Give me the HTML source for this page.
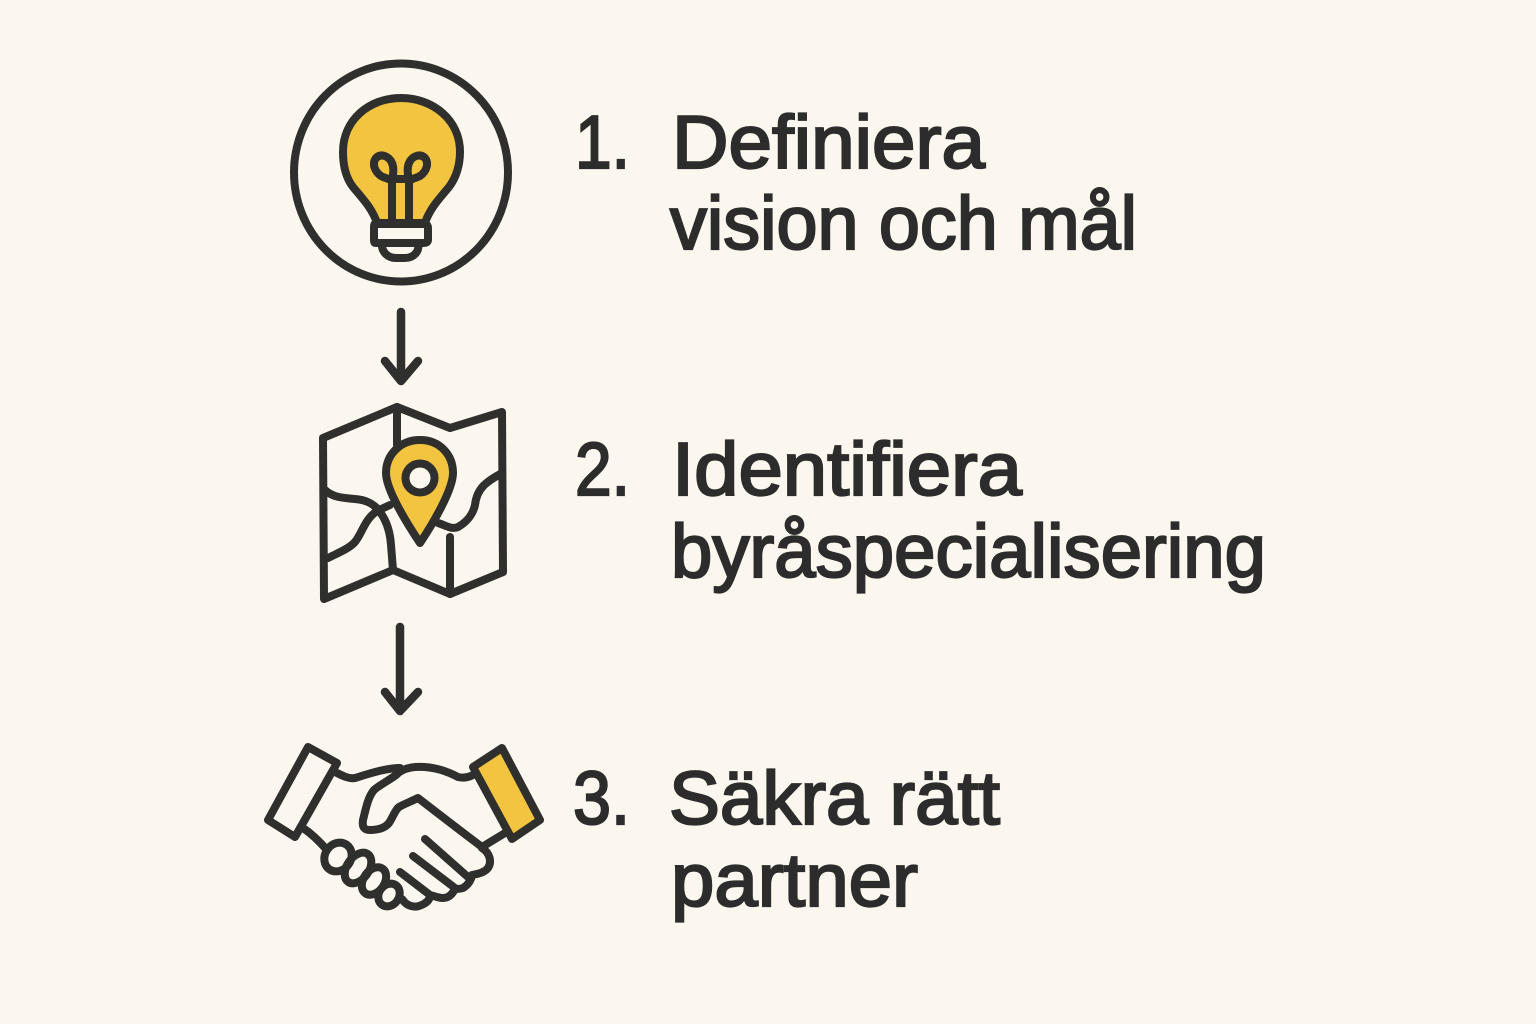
<!DOCTYPE html>
<html lang="sv">
<head>
<meta charset="utf-8">
<title>Tre steg</title>
<style>
html,body{margin:0;padding:0;background:#fcf7ee;}
svg{display:block;}
text{font-family:"Liberation Sans",sans-serif;font-size:75px;fill:#2c2c2c;stroke:#2c2c2c;stroke-width:2.2px;}
</style>
</head>
<body>
<svg width="1536" height="1024" viewBox="0 0 1536 1024" xmlns="http://www.w3.org/2000/svg">
<rect width="1536" height="1024" fill="#fcf7ee"/>
<g fill="none" stroke="#2f2f2d" stroke-width="8" stroke-linecap="round" stroke-linejoin="round">
  <!-- Bulb -->
  <ellipse cx="401" cy="172.5" rx="107" ry="109"/>
  <path d="M377 223C372 208 362 198 353 187C346 178 343 165 343 152C343 120 369 98 401 98C433 98 460 120 460 152C460 165 456 178 449 187C440 198 430 208 425 223Z" fill="#f2c440"/>
  <path d="M392 223V184C392 178 386 179 381 176C374 171 372 163 376 158C381 153 389 156 392 163C395 170 392 178 392 184M409 223V184C409 178 415 179 420 176C427 171 429 163 425 158C420 153 412 156 409 163C406 170 409 178 409 184M390 179H411"/>
  <path d="M375 224H425C427 224 428 226 428 228V240C428 242 426 243 424 243H376C374 243 374 242 374 240V228C374 226 374 224 375 224Z" fill="#fcf7ee"/>
  <path d="M382 243C381 252 388 258 396 258H405C413 258 420 252 418 243"/>
  <!-- Arrows -->
  <path d="M401 312V381M385 361L401 381L418 361" stroke-width="8.5"/>
  <path d="M400 627V711M385 692L400 711L418 692" stroke-width="8.5"/>
  <!-- Map -->
  <path d="M323 438L397 407L450 428L502 412L503 572L450 594L393 570L324 599Z"/>
  <path d="M397 407V445"/>
  <path d="M325 490C332 497 342 498 355 499C368 500 375 505 380 512C386 520 390 530 391 545L393 570"/>
  <path d="M328 558C338 553 348 549 354 543C362 535 364 518 379 510L390 505"/>
  <path d="M438 523C445 525 452 530 458 527C467 522 473 514 475 505C477 487 488 481 502 473"/>
  <path d="M450 537V594"/>
  <path d="M420 440C400 440 386 455 386 473C386 490 408 525 420 543C432 525 453 490 453 473C453 455 440 440 420 440Z" fill="#f2c440"/>
  <circle cx="420" cy="478" r="14.5" fill="#fcf7ee"/>
  <!-- Handshake -->
  <path d="M308 747L337 763L295 837L268 820Z"/>
  <path d="M502 748L540 820L512 839L473 767Z" fill="#f2c440"/>
  <path d="M337 773C343 776 349 779 355 778C365 775 385 768 400 768"/>
  <path d="M473 775C467 778 462 778 458 777C445 770 430 766 415 767C405 768 400 771 396 775C388 781 378 786 374 790C368 797 366 808 363 820C362 827 364 830 370 830C378 830 385 828 389 823C393 817 395 810 399 807C404 804 412 801 418 798C440 815 462 832 482 847"/>
  <path d="M482 847L505 833"/>
  <path d="M482 848C490 853 492 862 488 868C484 873 477 874 472 875C471 881 468 885 463 888C460 889 457 889 455 889C452 895 448 898 443 898C438 898 434 896 430 895C430 901 425 904 419 906C412 908 406 905 402 899"/>
  <path d="M425 839L468 877M413 856L455 888M400 872L430 895"/>
  <path d="M303 828C312 834 320 842 327 850"/>
  <ellipse cx="338" cy="857" rx="13" ry="15" transform="rotate(35 338 857)"/>
  <ellipse cx="358" cy="868" rx="11" ry="17" transform="rotate(35 358 868)"/>
  <ellipse cx="374" cy="881" rx="10.5" ry="15" transform="rotate(35 374 881)"/>
  <ellipse cx="389" cy="895" rx="10" ry="12" transform="rotate(35 389 895)"/>
</g>
<text x="575" y="168" textLength="55" lengthAdjust="spacingAndGlyphs">1.</text>
<text x="672" y="168" textLength="313" lengthAdjust="spacingAndGlyphs">Definiera</text>
<text x="670" y="249" textLength="467" lengthAdjust="spacingAndGlyphs">vision och mål</text>
<text x="575" y="495" textLength="55" lengthAdjust="spacingAndGlyphs">2.</text>
<text x="672" y="495" textLength="350" lengthAdjust="spacingAndGlyphs">Identifiera</text>
<text x="671" y="577" textLength="595" lengthAdjust="spacingAndGlyphs">byråspecialisering</text>
<text x="573" y="824" textLength="57" lengthAdjust="spacingAndGlyphs">3.</text>
<text x="669" y="824" textLength="331" lengthAdjust="spacingAndGlyphs">Säkra rätt</text>
<text x="671" y="906" textLength="247" lengthAdjust="spacingAndGlyphs">partner</text>
</svg>
</body>
</html>
